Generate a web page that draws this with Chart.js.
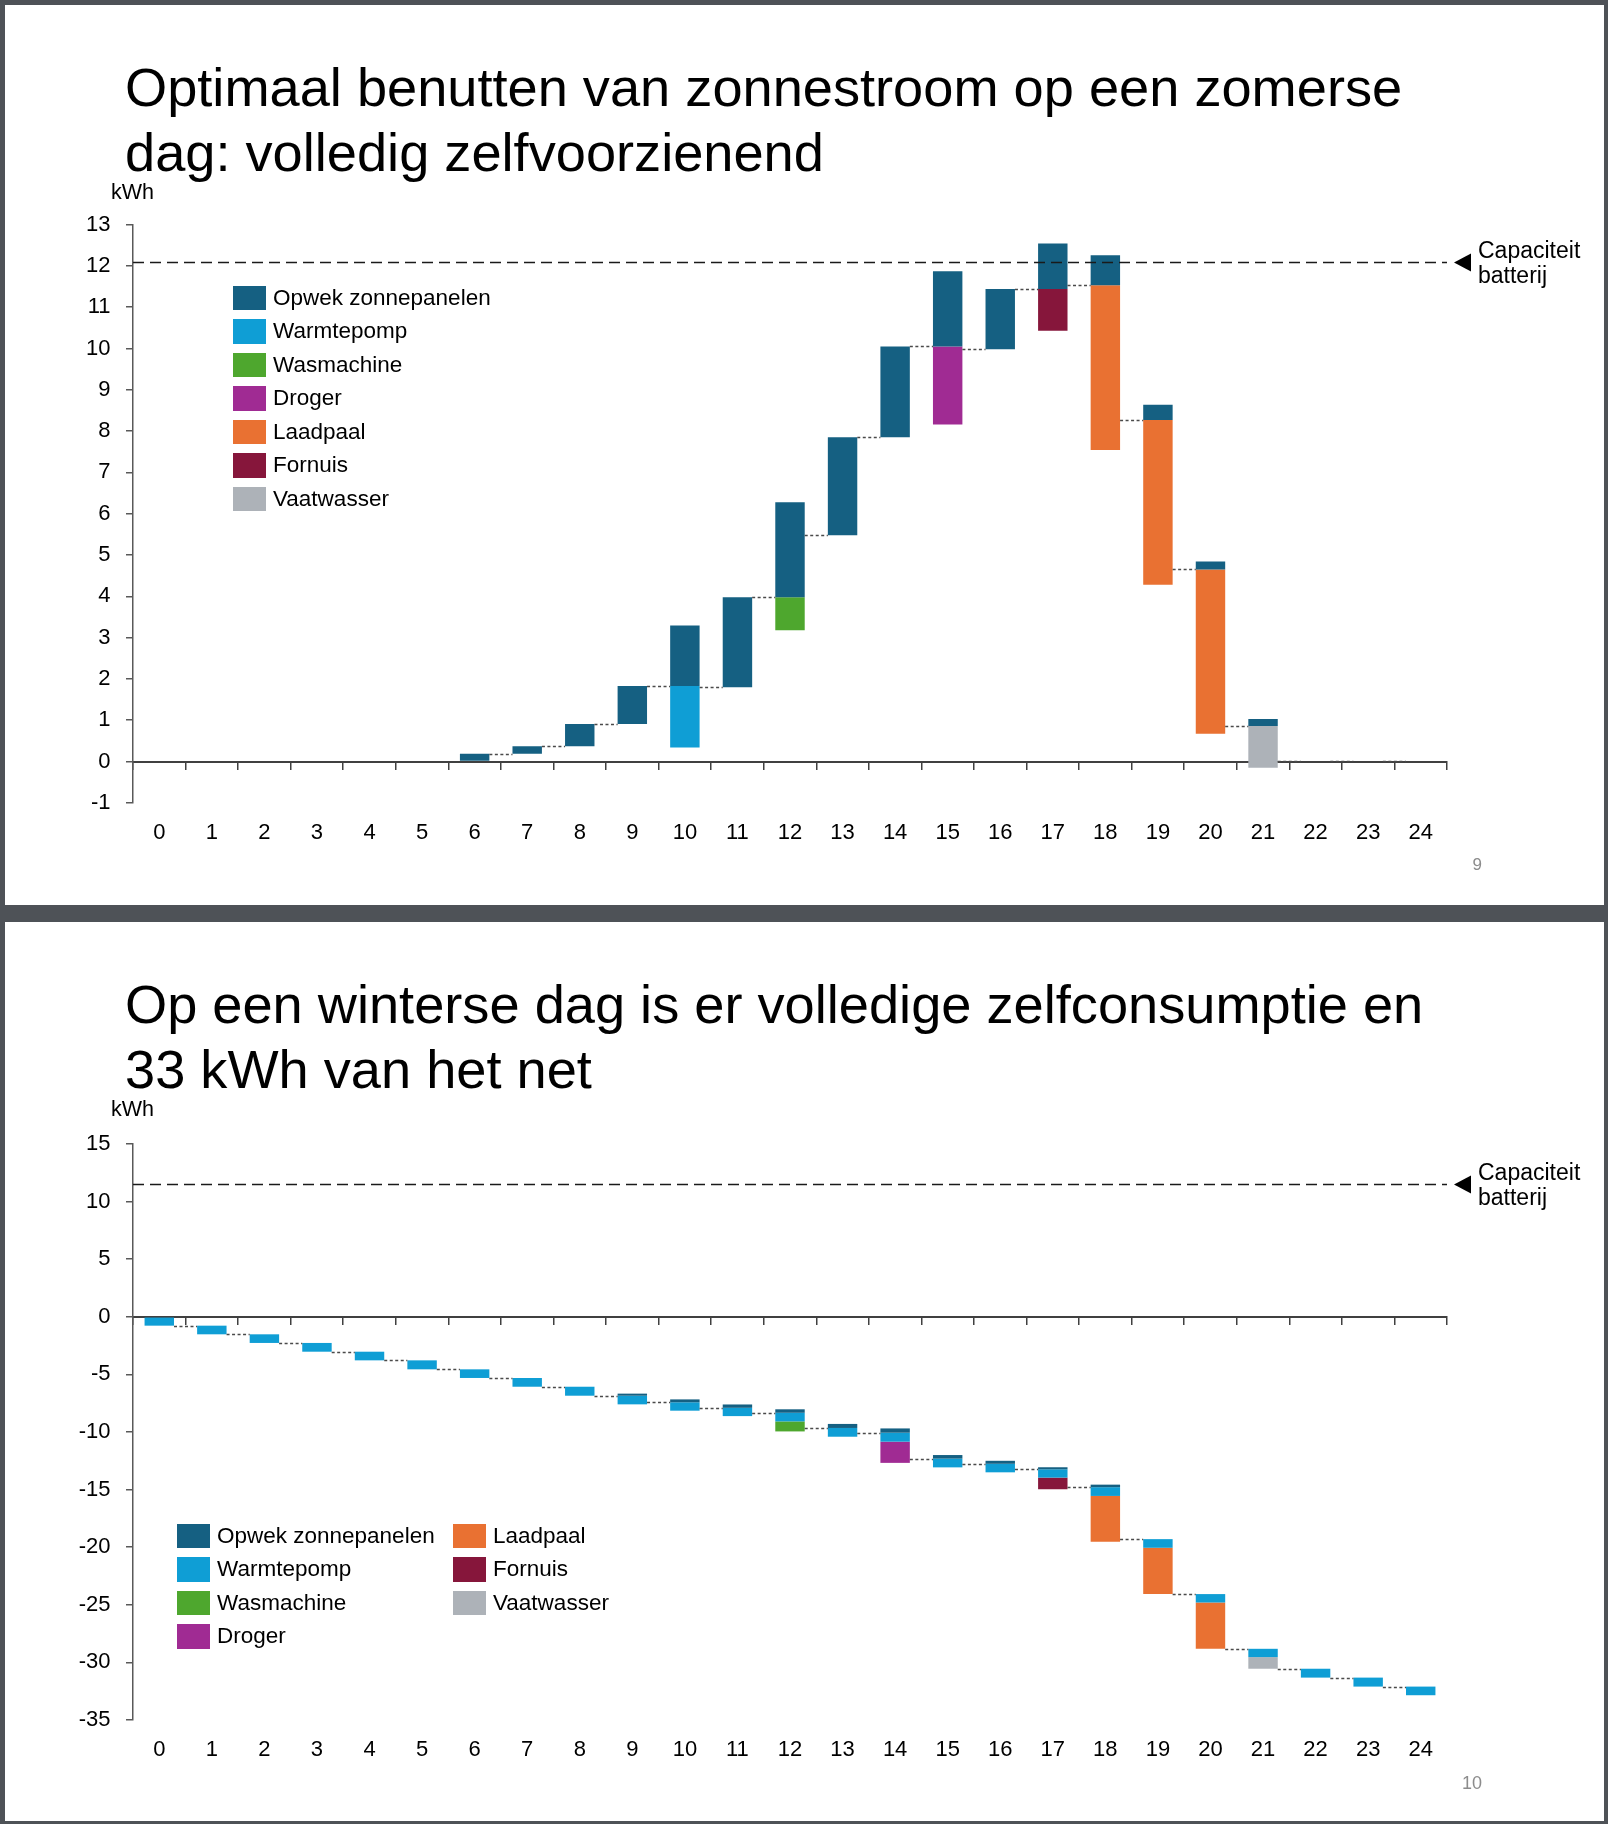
<!DOCTYPE html>
<html>
<head>
<meta charset="utf-8">
<script src="https://cdn.jsdelivr.net/npm/chart.js@4.4.1/dist/chart.umd.min.js"></script>
<style>
  html, body { margin: 0; padding: 0; }
  body { width: 1608px; height: 1824px; background: #4e5257; position: relative; overflow: hidden;
         font-family: "Liberation Sans", Arial, sans-serif; color: #000; }
  .slide { position: absolute; left: 5px; width: 1599px; background: #fff; }
  .title { position: absolute; left: 125px; font-size: 54.2px; line-height: 65px; white-space: nowrap; }
  .unit { position: absolute; left: 111px; font-size: 21.5px; line-height: 21.5px; }
  canvas { position: absolute; left: 0; }
  .legend { position: absolute; font-size: 22.5px; }
  .item { display: flex; align-items: center; height: 33.5px; white-space: nowrap; }
  .sw { width: 33px; height: 24.5px; margin-right: 7px; flex: none; }
  .cap { position: absolute; left: 1478px; font-size: 23px; line-height: 25px; }
  .pnum { position: absolute; left: 1400px; width: 82px; text-align: right; color: #8c8c8c; }
</style>
</head>
<body>
<div class="slide" style="top:5px;height:900px"></div>
<div class="slide" style="top:922px;height:899px"></div>

<canvas id="summer" width="1608" height="750" style="top:150px"></canvas>
<canvas id="winter" width="1608" height="750" style="top:1070px"></canvas>

<div class="title" style="top:55px">Optimaal benutten van zonnestroom op een zomerse<br>dag: volledig zelfvoorzienend</div>
<div class="unit" style="top:182px">kWh</div>
<div class="legend" id="legendSummer" style="left:233px;top:281px"></div>
<div class="cap" id="capSummer">Capaciteit<br>batterij</div>
<div class="pnum" style="top:856px;font-size:17px;line-height:17px">9</div>

<div class="title" style="top:972px">Op een winterse dag is er volledige zelfconsumptie en<br>33 kWh van het net</div>
<div class="unit" style="top:1099px">kWh</div>
<div class="legend" id="legendWinter1" style="left:177px;top:1519px"></div>
<div class="legend" id="legendWinter2" style="left:453px;top:1519px"></div>
<div class="cap" id="capWinter">Capaciteit<br>batterij</div>
<div class="pnum" style="top:1774px;font-size:18px;line-height:18px">10</div>

<script>
const hours = ['0','1','2','3','4','5','6','7','8','9','10','11','12','13','14','15','16','17','18','19','20','21','22','23','24'];
const categories = ['Opwek zonnepanelen', 'Warmtepomp', 'Wasmachine', 'Droger', 'Laadpaal', 'Fornuis', 'Vaatwasser'];
const colors = ['#156082', '#0F9ED5', '#4EA72E', '#A02B93', '#E97132', '#86163B', '#ADB2B8'];

// zomerse dag (kWh per uur)
const summerOpwek      = [0,0,0,0,0,0,0.19,0.18,0.54,0.92,1.46,2.18,2.30,2.37,2.20,1.82,1.46,1.10,0.73,0.37,0.19,0.17,0,0,0];
const summerWarmtepomp = [0,0,0,0,0,0,0,0,0,0,1.49,0,0,0,0,0,0,0,0,0,0,0,0,0,0];
const summerWasmachine = [0,0,0,0,0,0,0,0,0,0,0,0,0.80,0,0,0,0,0,0,0,0,0,0,0,0];
const summerDroger     = [0,0,0,0,0,0,0,0,0,0,0,0,0,0,0,1.89,0,0,0,0,0,0,0,0,0];
const summerLaadpaal   = [0,0,0,0,0,0,0,0,0,0,0,0,0,0,0,0,0,0,3.99,3.99,3.98,0,0,0,0];
const summerFornuis    = [0,0,0,0,0,0,0,0,0,0,0,0,0,0,0,0,0,1.01,0,0,0,0,0,0,0];
const summerVaatwasser = [0,0,0,0,0,0,0,0,0,0,0,0,0,0,0,0,0,0,0,0,0,1.01,0,0,0];
const summerCapacity = 12.1;

// winterse dag (kWh per uur)
const winterOpwek      = [0,0,0,0,0,0,0,0,0,0.18,0.25,0.29,0.30,0.35,0.37,0.31,0.26,0.18,0.22,0,0,0,0,0,0];
const winterWarmtepomp = [0.77,0.75,0.75,0.76,0.75,0.78,0.75,0.76,0.78,0.75,0.73,0.72,0.75,0.76,0.78,0.76,0.74,0.72,0.76,0.75,0.73,0.72,0.77,0.78,0.75];
const winterWasmachine = [0,0,0,0,0,0,0,0,0,0,0,0,0.87,0,0,0,0,0,0,0,0,0,0,0,0];
const winterDroger     = [0,0,0,0,0,0,0,0,0,0,0,0,0,0,1.84,0,0,0,0,0,0,0,0,0,0];
const winterLaadpaal   = [0,0,0,0,0,0,0,0,0,0,0,0,0,0,0,0,0,0,3.97,4.02,4.02,0,0,0,0];
const winterFornuis    = [0,0,0,0,0,0,0,0,0,0,0,0,0,0,0,0,0,1.01,0,0,0,0,0,0,0];
const winterVaatwasser = [0,0,0,0,0,0,0,0,0,0,0,0,0,0,0,0,0,0,0,0,0,1.01,0,0,0];
const winterCapacity = 11.5;

const FONT = '"Liberation Sans", Arial, sans-serif';

// opwek gaat omhoog vanaf het batterijniveau, verbruik stapelt omlaag
function waterfall(series) {
  const data = categories.map(() => []);
  const levels = [];
  let level = 0;
  for (let i = 0; i < hours.length; i++) {
    const start = level;
    const gen = series[0][i];
    data[0].push(gen ? [start, start + gen] : null);
    let cursor = start;
    for (let c = 1; c < categories.length; c++) {
      const v = series[c][i];
      data[c].push(v ? [cursor - v, cursor] : null);
      cursor -= v;
    }
    level = cursor + gen;
    levels.push(level);
  }
  return { data, levels };
}

const connectors = {
  id: 'connectors',
  afterDatasetsDraw(chart, args, opts) {
    const { ctx, scales: { x, y } } = chart;
    const bar = chart.getDatasetMeta(0).data[0];
    const half = bar.width / 2;
    const lv = opts.levels;
    ctx.save();
    ctx.setLineDash([3, 2.5]);
    ctx.lineWidth = 1.3;
    ctx.strokeStyle = '#4a4a4a';
    for (let i = 0; i < lv.length - 1; i++) {
      if (Math.abs(lv[i]) < 1e-6) continue;
      const py = Math.round(y.getPixelForValue(lv[i])) + 0.5;
      ctx.beginPath();
      ctx.moveTo(x.getPixelForValue(i) + half, py);
      ctx.lineTo(x.getPixelForValue(i + 1) - half, py);
      ctx.stroke();
    }
    ctx.restore();
  }
};

const battery = {
  id: 'battery',
  afterDatasetsDraw(chart, args, opts) {
    const { ctx, chartArea, scales: { y } } = chart;
    const py = Math.round(y.getPixelForValue(opts.value)) + 0.5;
    ctx.save();
    ctx.setLineDash([11, 6]);
    ctx.lineWidth = 1.5;
    ctx.strokeStyle = '#1a1a1a';
    ctx.beginPath();
    ctx.moveTo(chartArea.left, py);
    ctx.lineTo(chartArea.right, py);
    ctx.stroke();
    ctx.setLineDash([]);
    ctx.fillStyle = '#000';
    ctx.beginPath();
    ctx.moveTo(chartArea.right + 7, py);
    ctx.lineTo(chartArea.right + 24, py - 9);
    ctx.lineTo(chartArea.right + 24, py + 9);
    ctx.closePath();
    ctx.fill();
    ctx.restore();
  }
};

function makeChart(id, series, capacity, yMin, yMax, step, padTop, bottomH, capLabel) {
  const wf = waterfall(series);
  const canvas = document.getElementById(id);
  const chart = new Chart(canvas, {
    type: 'bar',
    data: {
      labels: hours,
      datasets: categories.map((name, c) => ({
        label: name,
        data: wf.data[c],
        backgroundColor: colors[c],
        borderWidth: 0
      }))
    },
    options: {
      responsive: false,
      animation: false,
      events: [],
      layout: { padding: { left: 0, top: padTop, right: 161, bottom: 0 } },
      datasets: { bar: { grouped: false, barPercentage: 0.56, categoryPercentage: 1 } },
      plugins: {
        legend: { display: false },
        tooltip: { enabled: false },
        connectors: { levels: wf.levels },
        battery: { value: capacity }
      },
      scales: {
        x: {
          type: 'category',
          position: 'bottom',
          offset: true,
          grid: { display: false },
          border: { display: false },
          ticks: { color: '#000', font: { family: FONT, size: 22 }, padding: 8.5, maxRotation: 0, autoSkip: false },
          afterFit(s) { s.height = bottomH; }
        },
        x0: {
          type: 'category',
          axis: 'x',
          position: { y: 0 },
          offset: true,
          grid: { offset: true, drawOnChartArea: false, drawTicks: true, tickLength: 7, color: '#404040', lineWidth: 1.5 },
          border: { display: true, color: '#404040', width: 2 },
          ticks: { display: false }
        },
        y: {
          min: yMin,
          max: yMax,
          ticks: { stepSize: step, color: '#000', font: { family: FONT, size: 22 }, padding: 15.5, autoSkip: false },
          grid: { drawOnChartArea: false, tickLength: 7, color: '#595959', lineWidth: 1.5 },
          border: { color: '#595959', width: 1.5 },
          afterFit(s) { s.width = 133; }
        }
      }
    },
    plugins: [connectors, battery]
  });
  const py = chart.scales.y.getPixelForValue(capacity) + parseFloat(canvas.style.top);
  document.getElementById(capLabel).style.top = (py - 24) + 'px';
  return chart;
}

function legend(elId, from, to) {
  const el = document.getElementById(elId);
  for (let c = from; c < to; c++) {
    const item = document.createElement('div');
    item.className = 'item';
    item.innerHTML = '<span class="sw" style="background:' + colors[c] + '"></span><span>' + categories[c] + '</span>';
    el.appendChild(item);
  }
}

makeChart('summer',
  [summerOpwek, summerWarmtepomp, summerWasmachine, summerDroger, summerLaadpaal, summerFornuis, summerVaatwasser],
  summerCapacity, -1, 13, 1, 74.6, 97.2, 'capSummer');
makeChart('winter',
  [winterOpwek, winterWarmtepomp, winterWasmachine, winterDroger, winterLaadpaal, winterFornuis, winterVaatwasser],
  winterCapacity, -35, 15, 5, 74, 100, 'capWinter');

legend('legendSummer', 0, 7);
legend('legendWinter1', 0, 4);
legend('legendWinter2', 4, 7);
</script>
</body>
</html>
